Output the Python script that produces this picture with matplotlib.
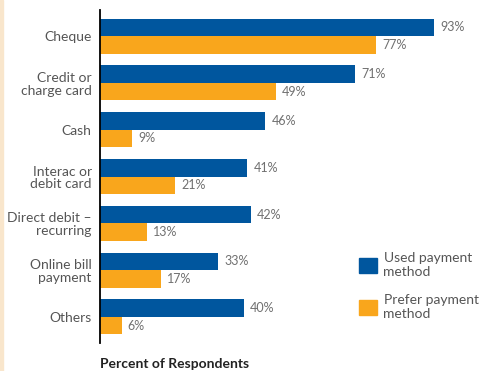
import matplotlib.pyplot as plt
import matplotlib.patches as mpatches
import numpy as np

# Dados
categorias = ["Cheque", "Credit or\ncharge card", "Cash", "Interac or\ndebit card",
              "Direct debit \u2013\nrecurring", "Online bill\npayment", "Others"]
usado = [93, 71, 46, 41, 42, 33, 40]
preferido = [77, 49, 9, 21, 13, 17, 6]

azul = "#00569E"
laranja = "#F9A61C"
cinza = "#555555"

plt.rcParams['font.family'] = ['Lato', 'DejaVu Sans']

fig = plt.figure(figsize=(4.84, 3.71), dpi=100)
ax = fig.add_axes([100 / 484, 28 / 371, 359 / 484, 333 / 371])

y = np.arange(len(categorias))
h = 0.374

ax.barh(y - h / 2, usado, height=h, color=azul)
ax.barh(y + h / 2, preferido, height=h, color=laranja)

for i in range(len(categorias)):
    ax.annotate(f"{usado[i]}%", (usado[i], y[i] - h / 2), xytext=(4.5, 0),
                textcoords="offset points", va="center", ha="left",
                fontsize=9, color="#707070")
    ax.annotate(f"{preferido[i]}%", (preferido[i], y[i] + h / 2), xytext=(4.5, 0),
                textcoords="offset points", va="center", ha="left",
                fontsize=9, color="#707070")

ax.set_xlim(0, 100)
ax.set_ylim(6.556, -0.556)
ax.set_xticks([])
ax.set_yticks(y)
ax.set_yticklabels(categorias, fontsize=10, color=cinza, linespacing=1.1)
ax.tick_params(axis="y", length=0, pad=6)
for s in ["top", "right", "bottom"]:
    ax.spines[s].set_visible(False)
ax.spines["left"].set_linewidth(1.3)
ax.spines["left"].set_color("black")

# Legenda
h1 = mpatches.Patch(color=azul, label="Used payment\nmethod")
h2 = mpatches.Patch(color=laranja, label="Prefer payment\nmethod")
leg = fig.legend(handles=[h1, h2], loc="upper left", bbox_to_anchor=(346 / 484, 1 - 240 / 371),
                 frameon=False, fontsize=10, handlelength=1.3, handleheight=1.3,
                 handletextpad=0.5, labelspacing=1.15)
for t in leg.get_texts():
    t.set_color(cinza)

fig.text(100 / 484, 1 - 363.5 / 371, "Percent of Respondents", fontsize=10,
         fontweight="bold", color="#222222", va="center", ha="left")

# faixa bege na borda esquerda
fig.patches.append(mpatches.Rectangle((0, 0), 3 / 484, 1, transform=fig.transFigure,
                                      color="#F9E6CC", zorder=0))

plt.savefig("out.png", dpi=100)
